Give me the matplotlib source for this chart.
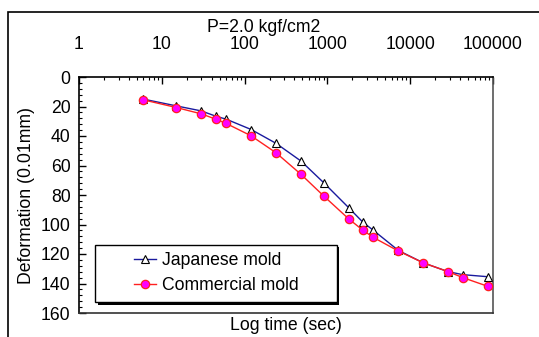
import matplotlib
matplotlib.use("Agg")
import matplotlib.pyplot as plt
from matplotlib.ticker import FixedLocator, LogLocator, NullFormatter, MultipleLocator
from matplotlib.patches import Rectangle

plt.rcParams['font.family'] = ['Liberation Sans', 'DejaVu Sans']

time_sec = [6, 15, 30, 45, 60, 120, 240, 480, 900, 1800, 2700, 3600, 7200, 14400, 28800, 43200, 86400]
japanese = [15, 19.6, 23, 26.6, 28.6, 35.6, 45, 57, 71.6, 88.5, 98.6, 104, 117.6, 126, 132, 134, 135.4]
commercial = [15.5, 20.7, 25, 28.6, 31.5, 39.9, 51.4, 66, 80.6, 96.1, 104, 108.8, 118, 126, 132, 136, 141.9]
x_ticks = [1, 10, 100, 1000, 10000, 100000]
x_labels = ['1', '10', '100', '1000', '10000', '100000']

FS = 12.7
fig = plt.figure(figsize=(5.39, 3.37), dpi=100)
ax = fig.add_axes([79/539, 1-313/337, 414/539, 236/337])

ax.plot(time_sec, japanese, color='#1a1a9e', lw=1.0, marker='^', ms=5.5,
        mfc='white', mec='black', mew=0.8, label='Japanese mold', zorder=3)
ax.plot(time_sec, commercial, color='#ff2020', lw=1.0, marker='o', ms=6,
        mfc='#ff00ff', mec='#ff2020', mew=0.9, label='Commercial mold', zorder=4)

ax.set_xscale('log')
ax.set_xlim(1, 100000)
ax.set_ylim(160, 0)
ax.xaxis.tick_top()
ax.xaxis.set_label_position('top')
ax.xaxis.set_major_locator(FixedLocator(x_ticks))
ax.set_xticklabels(x_labels)
ax.xaxis.set_minor_locator(LogLocator(base=10, subs=range(2, 10), numticks=20))
ax.xaxis.set_minor_formatter(NullFormatter())
ax.yaxis.set_major_locator(MultipleLocator(20))
ax.yaxis.set_minor_locator(MultipleLocator(4))
ax.tick_params(axis='both', which='major', direction='in', length=5, width=1.0, labelsize=FS, pad=6)
ax.tick_params(axis='both', which='minor', direction='in', length=2.5, width=0.8)
ax.tick_params(axis='x', which='major', pad=17)
for s in ax.spines.values():
    s.set_linewidth(1.2)
ax.spines['right'].set_color('#555555')
ax.spines['bottom'].set_color('#333333')

fig.text(0.49, 1-28/337, 'P=2.0 kgf/cm2', ha='center', va='center', fontsize=FS)
fig.text(286/539, 1-326/337, 'Log time (sec)', ha='center', va='center', fontsize=FS)
ax.set_ylabel('Deformation (0.01mm)', fontsize=FS, labelpad=4)

# legend box with shadow
lx, ly, lw_, lh = 0.039, 0.046, 0.584, 0.244
dx = 2.5 / 414
dy = 2.5 / 236
ax.add_patch(Rectangle((lx + dx, ly - dy), lw_, lh, transform=ax.transAxes,
                       facecolor='black', edgecolor='none', zorder=5))
ax.add_patch(Rectangle((lx, ly), lw_, lh, transform=ax.transAxes,
                       facecolor='white', edgecolor='black', lw=1.0, zorder=6))
leg = ax.legend(loc='center', bbox_to_anchor=(lx + lw_ / 2, ly + lh / 2),
                fontsize=FS, frameon=False,
                handlelength=1.3, handletextpad=0.3, labelspacing=0.45,
                borderpad=0, borderaxespad=0)
leg.set_zorder(7)

# outer frame
fig.add_artist(Rectangle((8/539, -0.1), 1.2, 1-12/337+0.1, transform=fig.transFigure,
                         fill=False, edgecolor='black', lw=1.2))

fig.savefig('out.png', dpi=100)
